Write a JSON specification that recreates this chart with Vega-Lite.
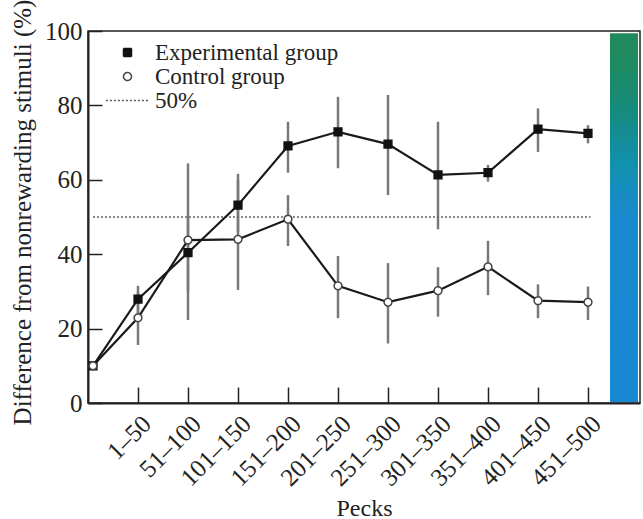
{
  "$schema": "https://vega.github.io/schema/vega-lite/v6.json",
  "width": 552,
  "height": 372,
  "autosize": {"type": "none"},
  "padding": {"left": 88, "top": 31, "right": 3, "bottom": 116},
  "background": "white",
  "config": {
    "view": {"stroke": "#222", "strokeWidth": 1.5},
    "font": "Liberation Serif",
    "axis": {"grid": false, "domainColor": "#222", "domainWidth": 2, "tickColor": "#222", "tickWidth": 1.5, "labelColor": "#222", "titleColor": "#222", "labelFont": "Liberation Serif", "titleFont": "Liberation Serif", "labelFontSize": 25, "titleFontSize": 24, "titleFontWeight": "normal", "labelOverlap": false}
  },
  "datasets": {
    "groups": [
      {"series": "Experimental group", "x": 0.1, "mean": 10, "lo": null, "hi": null},
      {"series": "Experimental group", "x": 1, "mean": 27.9, "lo": 24, "hi": 31.5},
      {"series": "Experimental group", "x": 2, "mean": 40.4, "lo": 30, "hi": 50},
      {"series": "Experimental group", "x": 3, "mean": 53.2, "lo": 46, "hi": 60},
      {"series": "Experimental group", "x": 4, "mean": 69.1, "lo": 61.9, "hi": 75.6},
      {"series": "Experimental group", "x": 5, "mean": 72.9, "lo": 63.1, "hi": 82.3},
      {"series": "Experimental group", "x": 6, "mean": 69.6, "lo": 55.9, "hi": 82.8},
      {"series": "Experimental group", "x": 7, "mean": 61.3, "lo": 46.7, "hi": 75.6},
      {"series": "Experimental group", "x": 8, "mean": 61.9, "lo": 59.5, "hi": 64},
      {"series": "Experimental group", "x": 9, "mean": 73.6, "lo": 67.5, "hi": 79.2},
      {"series": "Experimental group", "x": 10, "mean": 72.5, "lo": 69.8, "hi": 74.7},
      {"series": "Control group", "x": 0.1, "mean": 10, "lo": null, "hi": null},
      {"series": "Control group", "x": 1, "mean": 22.9, "lo": 15.6, "hi": 30},
      {"series": "Control group", "x": 2, "mean": 43.8, "lo": 22.3, "hi": 64.4},
      {"series": "Control group", "x": 3, "mean": 44, "lo": 30.4, "hi": 61.6},
      {"series": "Control group", "x": 4, "mean": 49.4, "lo": 42.2, "hi": 55.9},
      {"series": "Control group", "x": 5, "mean": 31.5, "lo": 22.8, "hi": 39.5},
      {"series": "Control group", "x": 6, "mean": 27.1, "lo": 16.0, "hi": 37.6},
      {"series": "Control group", "x": 7, "mean": 30.2, "lo": 23.2, "hi": 36.5},
      {"series": "Control group", "x": 8, "mean": 36.6, "lo": 29.0, "hi": 43.6},
      {"series": "Control group", "x": 9, "mean": 27.5, "lo": 22.8, "hi": 31.9},
      {"series": "Control group", "x": 10, "mean": 27.1, "lo": 22.3, "hi": 31.3}
    ],
    "reference": [
      {"series": "50%", "value": 50, "from": 0.1, "to": 10.05}
    ],
    "colourbar": [
      {"name": "colour bar"}
    ]
  },
  "layer": [
    {
      "data": {"name": "groups"},
      "transform": [{"filter": "datum.lo != null"}],
      "mark": {"type": "rule", "color": "#7d7878", "strokeWidth": 2.5},
      "encoding": {
        "x": {"field": "x", "type": "quantitative", "scale": {"domain": [0, 11.04], "nice": false, "zero": false},
          "axis": {"values": [1, 2, 3, 4, 5, 6, 7, 8, 9, 10], "labelExpr": "['1–50','51–100','101–150','151–200','201–250','251–300','301–350','351–400','401–450','451–500'][datum.value - 1]", "labelAngle": -45, "tickSize": -16, "labelPadding": 24, "title": "Pecks", "titleY": 112, "titleBaseline": "alphabetic"}},
        "y": {"field": "lo", "type": "quantitative", "scale": {"domain": [0, 100], "nice": false},
          "axis": {"values": [0, 20, 40, 60, 80, 100], "tickSize": -14, "labelPadding": 20, "title": "Difference from nonrewarding stimuli (%)", "titleFontSize": 25, "titleX": -53, "titleY": 181}},
        "y2": {"field": "hi"}
      }
    },
    {
      "data": {"name": "reference"},
      "mark": {"type": "rule", "color": "#666", "strokeWidth": 1.5, "strokeDash": [2, 2]},
      "encoding": {
        "x": {"field": "from", "type": "quantitative"},
        "x2": {"field": "to"},
        "y": {"field": "value", "type": "quantitative"}
      }
    },
    {
      "data": {"name": "groups"},
      "mark": {"type": "line", "color": "#1a1a1a", "strokeWidth": 2.2},
      "encoding": {
        "x": {"field": "x", "type": "quantitative"},
        "y": {"field": "mean", "type": "quantitative"},
        "detail": {"field": "series"}
      }
    },
    {
      "data": {"name": "groups"},
      "mark": {"type": "point", "size": 60, "strokeWidth": 1.5, "opacity": 1},
      "encoding": {
        "x": {"field": "x", "type": "quantitative"},
        "y": {"field": "mean", "type": "quantitative"},
        "shape": {"field": "series", "type": "nominal", "scale": {"domain": ["Experimental group", "Control group", "50%"], "range": ["square", "circle", "M-5.4,0L5.4,0"]},
          "legend": {"title": null, "orient": "none", "legendX": 28, "legendY": 10, "padding": 0, "symbolSize": 64, "labelFontSize": 23, "labelFont": "Liberation Serif", "labelColor": "#222", "labelOffset": 16, "labelLimit": 400, "rowPadding": -5, "symbolStrokeWidth": 1.5}},
        "fill": {"field": "series", "type": "nominal", "scale": {"domain": ["Experimental group", "Control group", "50%"], "range": ["#111111", "#ffffff", "transparent"]}, "legend": {"title": null}},
        "stroke": {"field": "series", "type": "nominal", "scale": {"domain": ["Experimental group", "Control group", "50%"], "range": ["#111111", "#444444", "#555555"]}, "legend": {"title": null}},
        "strokeDash": {"field": "series", "type": "nominal", "scale": {"domain": ["Experimental group", "Control group", "50%"], "range": [[1, 0], [1, 0], [2, 2]]}, "legend": {"title": null}}
      }
    },
    {
      "data": {"name": "colourbar"},
      "mark": {"type": "rect", "color": {"gradient": "linear", "x1": 0, "y1": 0, "x2": 0, "y2": 1, "stops": [{"offset": 0, "color": "#208a5a"}, {"offset": 0.08, "color": "#1e8a60"}, {"offset": 0.2, "color": "#168a7a"}, {"offset": 0.36, "color": "#1290b0"}, {"offset": 0.5, "color": "#1a8acf"}, {"offset": 1, "color": "#1887d2"}]}},
      "encoding": {
        "x": {"datum": 10.44, "type": "quantitative"},
        "x2": {"datum": 11.0},
        "y": {"datum": 0.3, "type": "quantitative"},
        "y2": {"datum": 99.4}
      }
    }
  ]
}
